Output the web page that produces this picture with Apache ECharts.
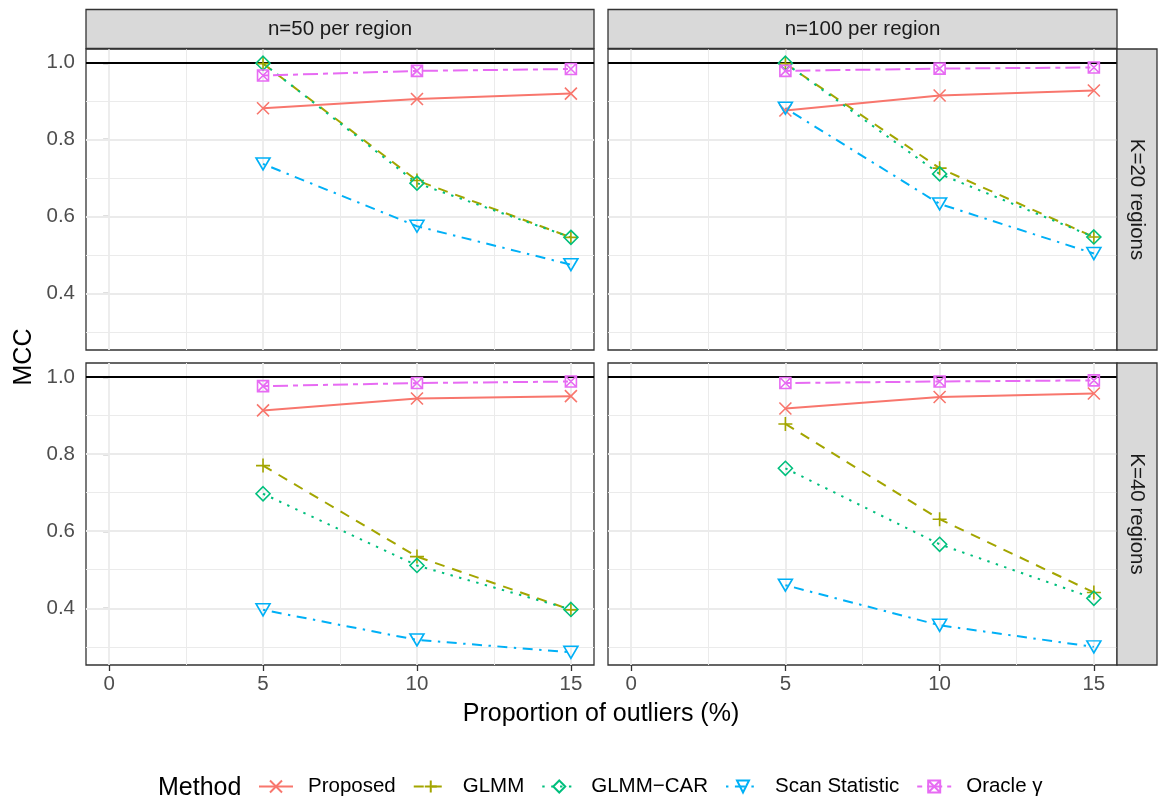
<!DOCTYPE html>
<html><head><meta charset="utf-8">
<script src="https://cdn.jsdelivr.net/npm/echarts@6/dist/echarts.min.js"></script>
<style>html,body{margin:0;padding:0;background:#fff}#c{width:1158px;height:804px}</style>
</head><body><div id="c"></div>
<script>
// ---------- data ----------
const xValues = [5, 10, 15];
const methods = ['Proposed', 'GLMM', 'GLMM\u2212CAR', 'Scan Statistic', 'Oracle \u03b3'];
const colTitles = ['n=50 per region', 'n=100 per region'];
const rowTitles = ['K=20 regions', 'K=40 regions'];
const xTicks = [0, 5, 10, 15];
const xMinor = [2.5, 7.5, 12.5];
const yTicks = [0.4, 0.6, 0.8, 1.0];
const yMinor = [0.3, 0.5, 0.7, 0.9];
const refLine = 1.0;
// panel order: [n=50,K=20], [n=100,K=20], [n=50,K=40], [n=100,K=40]
const proposed = [[0.882, 0.906, 0.920], [0.876, 0.915, 0.928], [0.913, 0.944, 0.950], [0.918, 0.948, 0.957]];
const glmm     = [[0.998, 0.694, 0.546], [0.998, 0.726, 0.547], [0.770, 0.534, 0.396], [0.878, 0.631, 0.441]];
const glmmCar  = [[0.999, 0.687, 0.546], [0.999, 0.711, 0.547], [0.697, 0.511, 0.397], [0.763, 0.566, 0.426]];
const scanStat = [[0.737, 0.575, 0.475], [0.882, 0.633, 0.504], [0.396, 0.318, 0.286], [0.460, 0.356, 0.300]];
const oracle   = [[0.967, 0.979, 0.984], [0.979, 0.985, 0.988], [0.976, 0.984, 0.988], [0.984, 0.988, 0.991]];

// ---------- styling ----------
const seriesVals = [proposed, glmm, glmmCar, scanStat, oracle];
const colors = ['#F8766D', '#A3A500', '#00BF7D', '#00B0F6', '#E76BF3'];
const dashes = ['solid', [10, 8], [2.4, 6.5], [2.4, 6.5, 10, 6.5], [5, 5, 15, 5]];
const symbols = [
  'path://M0,0L10,10M10,0L0,10',
  'path://M5,0L5,10M0,5L10,5',
  'path://M5,0L10,5L5,10L0,5Z',
  'path://M0,0L10,0L5,8.66Z',
  'path://M0,0L10,0L10,10L0,10ZM0,0L10,10M10,0L0,10'
];
const symSizes = [12, 14, 14, [14, 12], 11];

const panels = [
  {left: 86, top: 49, width: 508, height: 301},
  {left: 608, top: 49, width: 509, height: 301},
  {left: 86, top: 363, width: 508, height: 302},
  {left: 608, top: 363, width: 509, height: 302}
];
const FONT = '"Liberation Sans", Arial, Helvetica, sans-serif';

const grids = panels.map(p => ({
  left: p.left, top: p.top, width: p.width, height: p.height,
  show: true, backgroundColor: '#fff', borderColor: '#333333', borderWidth: 1.3
}));
const xAxes = panels.map((p, i) => ({
  gridIndex: i, type: 'value', min: -0.75, max: 15.75,
  axisLine: {show: false}, splitLine: {show: false},
  axisTick: {show: i >= 2, customValues: xTicks, length: 6, lineStyle: {color: '#333333', width: 1.3}},
  axisLabel: {show: i >= 2, customValues: xTicks, color: '#4D4D4D', fontSize: 20.5, fontFamily: FONT, margin: 9}
}));
const yAxes = panels.map((p, i) => ({
  gridIndex: i, type: 'value', min: 0.253, max: 1.036,
  axisLine: {show: false}, splitLine: {show: false},
  axisTick: {show: i % 2 === 0, customValues: yTicks, length: 6, lineStyle: {color: '#333333', width: 1.3}},
  axisLabel: {show: i % 2 === 0, customValues: yTicks, color: '#4D4D4D', fontSize: 20.5, fontFamily: FONT, margin: 11,
              formatter: v => v.toFixed(1)}
}));

const series = [];
panels.forEach((p, i) => {
  const ml = [];
  xMinor.forEach(v => ml.push({xAxis: v, lineStyle: {color: '#EBEBEB', width: 1, type: 'solid'}}));
  yMinor.forEach(v => ml.push({yAxis: v, lineStyle: {color: '#EBEBEB', width: 1, type: 'solid'}}));
  xTicks.forEach(v => ml.push({xAxis: v, lineStyle: {color: '#EBEBEB', width: 1.8, type: 'solid'}}));
  yTicks.forEach(v => ml.push({yAxis: v, lineStyle: {color: '#EBEBEB', width: 1.8, type: 'solid'}}));
  ml.push({yAxis: refLine, lineStyle: {color: '#000000', width: 2, type: 'solid'}});
  series.push({
    type: 'line', xAxisIndex: i, yAxisIndex: i, data: [], silent: true, z: 1,
    markLine: {z: 1, silent: true, symbol: ['none', 'none'], label: {show: false}, animation: false, data: ml}
  });
  methods.forEach((m, k) => {
    series.push({
      name: m, type: 'line', xAxisIndex: i, yAxisIndex: i, z: 3,
      data: xValues.map((x, j) => [x, seriesVals[k][i][j]]),
      symbol: symbols[k], symbolSize: symSizes[k], showSymbol: true,
      lineStyle: {color: colors[k], width: 2, type: dashes[k]},
      itemStyle: {color: 'rgba(0,0,0,0)', borderColor: colors[k], borderWidth: 1.6},
      emphasis: {disabled: true}
    });
  });
});

const graphics = [];
// column strips
[0, 1].forEach(c => {
  const p = panels[c];
  graphics.push({type: 'rect', shape: {x: p.left, y: 9.5, width: p.width, height: 39},
    style: {fill: '#D9D9D9', stroke: '#333333', lineWidth: 1.3}, z: 10});
  graphics.push({type: 'text', x: p.left + p.width / 2, y: 29, z: 11,
    style: {text: colTitles[c], font: '20.5px ' + FONT, fill: '#1A1A1A', align: 'center', verticalAlign: 'middle'}});
});
// row strips
[0, 1].forEach(r => {
  const p = panels[r * 2 + 1];
  graphics.push({type: 'rect', shape: {x: p.left + p.width, y: p.top, width: 40, height: p.height},
    style: {fill: '#D9D9D9', stroke: '#333333', lineWidth: 1.3}, z: 10});
  graphics.push({type: 'text', x: p.left + p.width + 20, y: p.top + p.height / 2, rotation: -Math.PI / 2, z: 11,
    style: {text: rowTitles[r], font: '20.5px ' + FONT, fill: '#1A1A1A', align: 'center', verticalAlign: 'middle'}});
});
// axis titles
graphics.push({type: 'text', x: 24, y: 357, rotation: Math.PI / 2, z: 11,
  style: {text: 'MCC', font: '25px ' + FONT, fill: '#000', align: 'center', verticalAlign: 'middle'}});
graphics.push({type: 'text', x: 601, y: 714, z: 11,
  style: {text: 'Proportion of outliers (%)', font: '25px ' + FONT, fill: '#000', align: 'center', verticalAlign: 'middle'}});
graphics.push({type: 'text', x: 158, y: 788, z: 11,
  style: {text: 'Method', font: '25px ' + FONT, fill: '#000', align: 'left', verticalAlign: 'middle'}});

const chart = echarts.init(document.getElementById('c'), null, {renderer: 'canvas'});
chart.setOption({
  animation: false,
  backgroundColor: '#ffffff',
  grid: grids, xAxis: xAxes, yAxis: yAxes, series: series,
  legend: {
    data: methods, left: 258, top: 776, padding: 0, orient: 'horizontal',
    itemWidth: 34, itemHeight: 15, itemGap: 17, selectedMode: false,
    textStyle: {fontSize: 20.5, fontFamily: FONT, color: '#000', padding: [0, 0, 0, 10]}
  },
  graphic: graphics
});
</script></body></html>
